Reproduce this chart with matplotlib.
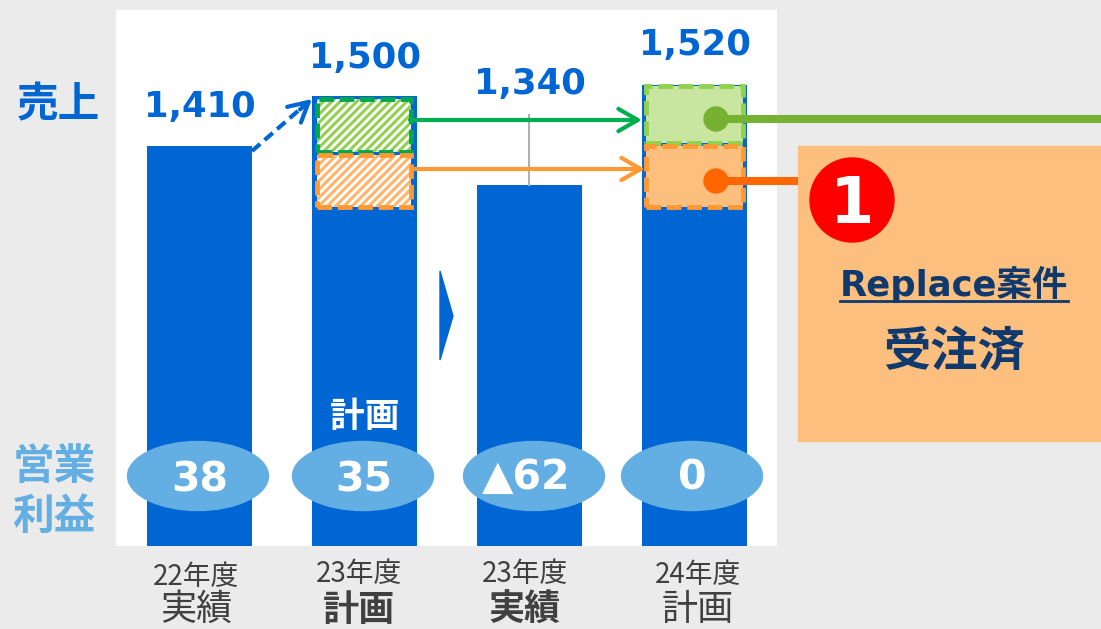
# Libraries
import matplotlib
matplotlib.use("Agg")
import matplotlib.pyplot as plt
from matplotlib.patches import Ellipse, Circle, Polygon, Rectangle

JP = ["Noto Sans CJK JP", "DejaVu Sans"]
LATIN = ["DejaVu Sans", "Noto Sans CJK JP"]

# Data
years = ["22年度", "23年度", "23年度", "24年度"]
kinds = ["実績", "計画", "実績", "計画"]
sales = [1410, 1500, 1340, 1520]
sales_labels = ["1,410", "1,500", "1,340", "1,520"]
profit_labels = ["38", "35", "▲62", "0"]
green_low = [1399, 1415]
green_high = [1495, 1518]
orange_low = [1300, 1300]
orange_high = [1394, 1410]
seg_pos = [1, 3]

BLUE = "#0066D3"
LIGHTBLUE = "#63AEE3"
GREEN = "#92D050"
ORANGE = "#FF9933"
NAVY = "#103A6E"

plt.rcParams["hatch.linewidth"] = 2.2

fig = plt.figure(figsize=(11.01, 6.29), dpi=100, facecolor="#EBEBEB")

# Bars, truncated sales axis
ax = fig.add_axes([116 / 1101, 1 - 546 / 629, 661 / 1101, 536 / 629])
ax.set_xlim(-0.506, 3.5)
ax.set_ylim(690, 1655)
ax.axis("off")
ax.add_patch(Rectangle((0, 0), 1, 1, transform=ax.transAxes, color="white", zorder=0))
ax.bar(range(4), [s - 690 for s in sales], bottom=690, width=105 / 165, color=BLUE, zorder=1)

# Hatched plan segments, flat actual segments
g_h = [h - l for h, l in zip(green_high, green_low)]
o_h = [h - l for h, l in zip(orange_high, orange_low)]
box_w = 94 / 165
dash = (0, (3, 1.2))
ax.bar(seg_pos[0], g_h[0], bottom=green_low[0], width=box_w, color="white", edgecolor=GREEN, hatch="////", linewidth=0, zorder=2)
ax.bar(seg_pos[0], o_h[0], bottom=orange_low[0], width=box_w, color="white", edgecolor="#FFB56B", hatch="////", linewidth=0, zorder=2)
ax.bar(seg_pos[1], g_h[1], bottom=green_low[1], width=box_w + 0.02, color="#C8E6A0", zorder=2)
ax.bar(seg_pos[1], o_h[1], bottom=orange_low[1], width=box_w + 0.02, color="#FCBF7E", zorder=2)
ax.bar(seg_pos[0], g_h[0], bottom=green_low[0], width=box_w, fill=False, edgecolor="#00A650", linewidth=3.5, linestyle=dash, zorder=3)
ax.bar(seg_pos[0], o_h[0], bottom=orange_low[0], width=box_w, fill=False, edgecolor=ORANGE, linewidth=3.5, linestyle=dash, zorder=3)
ax.bar(seg_pos[1], g_h[1], bottom=green_low[1], width=box_w + 0.02, fill=False, edgecolor=GREEN, linewidth=3.5, linestyle=dash, zorder=3)
ax.bar(seg_pos[1], o_h[1], bottom=orange_low[1], width=box_w + 0.02, fill=False, edgecolor=ORANGE, linewidth=3.5, linestyle=dash, zorder=3)

# Everything else sits on a pixel overlay
ov = fig.add_axes([0, 0, 1, 1])
ov.set_xlim(0, 1101)
ov.set_ylim(629, 0)
ov.axis("off")
ov.patch.set_alpha(0)

# Sales labels
for x, y, s in zip([200, 365, 530, 695], [107, 58, 84, 45], sales_labels):
    ov.text(x, y, s, color=BLUE, fontsize=25.5, fontweight="bold", family=LATIN, ha="center", va="center")

# Row titles
ov.text(58, 105, "売上", color=BLUE, fontsize=30, fontweight="bold", family=JP, ha="center", va="center")
ov.text(54, 467, "営業", color=LIGHTBLUE, fontsize=30, fontweight="bold", family=JP, ha="center", va="center")
ov.text(54, 517, "利益", color=LIGHTBLUE, fontsize=30, fontweight="bold", family=JP, ha="center", va="center")

# Profit ellipses
for x, tx, ty, s in zip([198, 363, 534, 692], [200, 364, 526, 692], [481, 480, 478, 479], profit_labels):
    ov.add_patch(Ellipse((x, 476), 141, 69, color=LIGHTBLUE, zorder=2))
    ov.text(tx, ty, s, color="white", fontsize=29.5, fontweight="bold", family=LATIN, ha="center", va="center", zorder=3)
ov.text(365, 416, "計画", color="white", fontsize=25, fontweight="bold", family=JP, ha="center", va="center")

# Category labels
for x, y, s in zip([196, 359, 525, 698], [577, 574, 574, 575], years):
    ov.text(x, y, s, color="#404040", fontsize=20, family=JP, ha="center", va="center")
for x, y, s, w in zip([196, 359, 525, 698], [610, 610, 610, 610], kinds, ["normal", "bold", "bold", "normal"]):
    ov.text(x, y, s, color="#404040", fontsize=26, fontweight=w, family=JP, ha="center", va="center")

# Connectors
ov.plot([252, 306], [151, 104], color=BLUE, lw=3, linestyle=(0, (2.6, 1.4)))
ov.annotate("", xy=(312, 99), xytext=(300, 109.5),
            arrowprops=dict(arrowstyle="->,head_length=1.4,head_width=0.75", color=BLUE, lw=3, shrinkA=0, shrinkB=0))
ov.annotate("", xy=(642, 120), xytext=(410, 120),
            arrowprops=dict(arrowstyle="->,head_length=1.4,head_width=0.8", color="#00B050", lw=3, shrinkA=0, shrinkB=0))
ov.annotate("", xy=(645, 169), xytext=(412, 169),
            arrowprops=dict(arrowstyle="->,head_length=1.4,head_width=0.8", color=ORANGE, lw=3, shrinkA=0, shrinkB=0))
ov.plot([529, 529], [115, 185], color="#B0B0B0", lw=1.5)
ov.add_patch(Polygon([(440, 271), (453, 316), (440, 360)], color=BLUE))

# Callout
ov.add_patch(Rectangle((798, 146), 303, 295, color="#FCBF7E", zorder=1))
ov.plot([716, 1101], [119, 119], color="#76B131", lw=5.8, solid_capstyle="butt", zorder=2)
ov.add_patch(Circle((716, 119), 12, color="#76B131", zorder=2))
ov.plot([716, 798], [181, 181], color="#FF6600", lw=5.8, solid_capstyle="butt", zorder=2)
ov.add_patch(Circle((716, 181), 12, color="#FF6600", zorder=2))
ov.add_patch(Circle((852, 200), 42, color="#FF0000", zorder=2))
ov.text(852, 205, "1", color="white", fontsize=46, fontweight="bold", family=LATIN, ha="center", va="center", zorder=3)
ov.text(954, 284, "Replace案件", color=NAVY, fontsize=25.5, fontweight="bold", family=LATIN, ha="center", va="center", zorder=3)
ov.plot([840, 1068], [301, 301], color=NAVY, lw=2, zorder=3)
ov.text(954, 352, "受注済", color=NAVY, fontsize=34, fontweight="bold", family=JP, ha="center", va="center", zorder=3)

fig.savefig("out.png", dpi=100, facecolor=fig.get_facecolor())
